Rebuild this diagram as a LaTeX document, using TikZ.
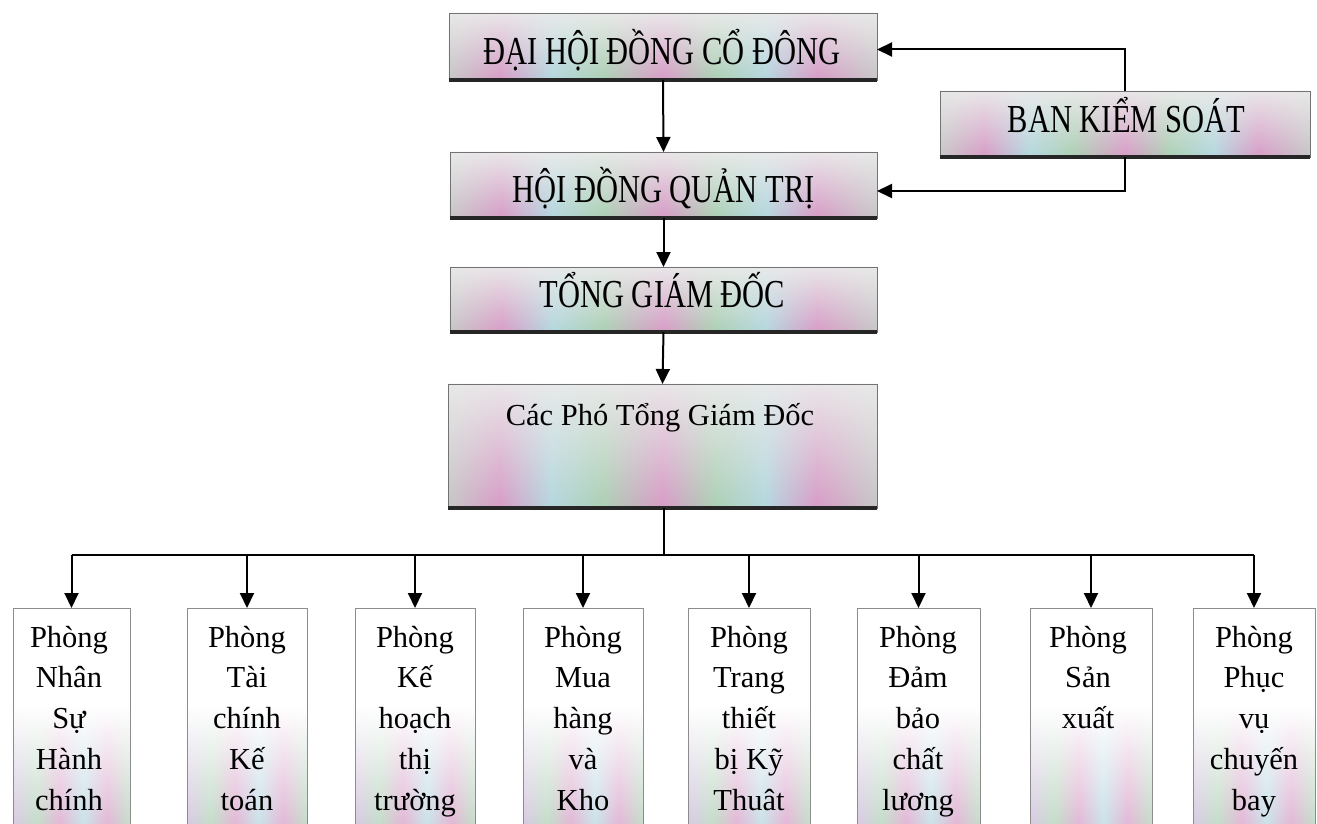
\documentclass[tikz,border=0pt]{standalone}
\usepackage{fontspec}
\setmainfont{Liberation Serif}
\usepackage{graphicx}
\usetikzlibrary{arrows.meta,fadings,calc}
\definecolor{pk}{RGB}{214,150,196}
\definecolor{gr}{RGB}{168,206,176}
\definecolor{cy}{RGB}{176,214,222}
\definecolor{gy}{RGB}{196,196,196}
\definecolor{lv}{RGB}{200,176,214}
\pgfdeclarehorizontalshading{rainA}{100bp}{color(0bp)=(gy); color(25bp)=(gy); color(31bp)=(pk); color(37bp)=(cy); color(43bp)=(gr); color(50bp)=(pk); color(56bp)=(gr); color(62bp)=(cy); color(68bp)=(pk); color(75bp)=(gy); color(100bp)=(gy)}
\pgfdeclarehorizontalshading{rainB}{100bp}{color(0bp)=(lv); color(25bp)=(lv); color(35bp)=(gr); color(45bp)=(pk); color(55bp)=(cy); color(65bp)=(pk); color(75bp)=(gr); color(100bp)=(gr)}
\begin{tikzfadingfrompicture}[name=upfade]
  \shade[top color=transparent!100, middle color=transparent!70, bottom color=transparent!0] (0,0) rectangle (2,2);
\end{tikzfadingfrompicture}
\begin{tikzfadingfrompicture}[name=lowfade]
  \fill[transparent!100] (0,1.1) rectangle (2,2);
  \shade[top color=transparent!100, bottom color=transparent!20] (0,0) rectangle (2,1.1);
\end{tikzfadingfrompicture}
\newcommand{\vst}[1]{\scalebox{1}[1.3]{#1}}
\newcommand{\dept}[1]{\begin{tabular}[t]{@{}c@{}}#1\end{tabular}}
\tikzset{
  hbox/.style={rectangle, inner sep=0pt, outer sep=0pt, draw=black!55, line width=0.9pt,
    preaction={fill=black!8}, preaction={shade, shading=rainA, path fading=upfade}},
  dbox/.style={rectangle, anchor=north, inner sep=0pt, outer sep=0pt, draw=black!45, line width=0.8pt,
    minimum width=118pt, minimum height=222pt,
    preaction={fill=white}, preaction={shade, shading=rainB, path fading=lowfade}},
  htxt/.style={anchor=base, inner sep=0pt, font=\fontsize{30.5}{36}\selectfont},
  dtxt/.style={anchor=base, inner sep=0pt, font=\fontsize{30.5}{40.75}\selectfont},
  conn/.style={line width=2pt, black},
  arr/.style={conn, -{Triangle[width=14pt,length=15pt]}},
  heavy/.style={line width=3.5pt, black!85}
}
\begin{document}
\begin{tikzpicture}[x=1pt,y=-1pt]
\useasboundingbox (0,0) rectangle (1317,824);
\clip (0,0) rectangle (1317,824);
\fill[white] (0,0) rectangle (1317,824);

% top boxes
\node[hbox, minimum width=428pt, minimum height=67pt] (dhcd) at (663,46.5) {};
\node[hbox, minimum width=427pt, minimum height=66pt] (hdqt) at (663.5,185) {};
\node[hbox, minimum width=427pt, minimum height=65pt] (tgd) at (663.5,299.5) {};
\node[hbox, minimum width=370pt, minimum height=66pt] (bks) at (1125,124) {};
\node[hbox, minimum width=429pt, minimum height=124pt] (cpt) at (662.5,446) {};
\foreach \n in {dhcd,hdqt,tgd,bks,cpt}{
  \draw[heavy] (\n.south west) -- (\n.south east);
}

\node[htxt] (tdhcd) at (662,65) {\vst{ĐẠI HỘI ĐỒNG CỔ ĐÔNG}};
\node[htxt] (thdqt) at (663.5,202) {\vst{HỘI ĐỒNG QUẢN TRỊ}};
\node[htxt] (ttgd) at (662.5,307) {\vst{TỔNG GIÁM ĐỐC}};
\node[htxt] (tbks) at (1126.5,132) {\vst{BAN KIỂM SOÁT}};
\node[htxt] (tcpt) at (660,425) {Các Phó Tổng Giám Đốc};

% department boxes
\node[dbox, minimum width=117pt] (b1) at (71.5,608) {};
\node[dbox, minimum width=120pt] (b2) at (247,608) {};
\node[dbox, minimum width=120pt] (b3) at (415,608) {};
\node[dbox, minimum width=120pt] (b4) at (583,608) {};
\node[dbox, minimum width=122pt] (b5) at (749,608) {};
\node[dbox, minimum width=123pt] (b6) at (918.5,608) {};
\node[dbox, minimum width=122pt] (b7) at (1091,608) {};
\node[dbox, minimum width=122pt] (b8) at (1254,608) {};

\node[dtxt] (t1) at (69,647) {\dept{Phòng\\Nhân\\Sự\\Hành\\chính}};
\node[dtxt] (t2) at (247,647) {\dept{Phòng\\Tài\\chính\\Kế\\toán}};
\node[dtxt] (t3) at (415,647) {\dept{Phòng\\Kế\\hoạch\\thị\\trường}};
\node[dtxt] (t4) at (583,647) {\dept{Phòng\\Mua\\hàng\\và\\Kho}};
\node[dtxt] (t5) at (749,647) {\dept{Phòng\\Trang\\thiết\\bị Kỹ\\Thuât}};
\node[dtxt] (t6) at (918,647) {\dept{Phòng\\Đảm\\bảo\\chất\\lương}};
\node[dtxt] (t7) at (1088,647) {\dept{Phòng\\Sản\\xuất}};
\node[dtxt] (t8) at (1254,647) {\dept{Phòng\\Phục\\vụ\\chuyến\\bay}};

% connectors
\draw[arr] (dhcd.south) -- (hdqt.north);
\draw[arr] (hdqt.south) -- (tgd.north);
\draw[arr] (tgd.south) -- (cpt.north);
\coordinate (ktop) at ($(dhcd.east)+(0,3)$);
\coordinate (kbot) at ($(hdqt.east)+(0,6)$);
\draw[arr] (bks.north) |- (ktop);
\draw[arr] (bks.south) |- (kbot);

\coordinate (bus) at (664,555);
\draw[conn] (cpt.south -| bus) -- (bus);
\draw[conn] (b1.north |- bus) -- (b8.north |- bus);
\foreach \b in {b1,b2,b3,b4,b5,b6,b7,b8}{
  \draw[arr] (\b.north |- bus) -- (\b.north);
}
\end{tikzpicture}
\end{document}
